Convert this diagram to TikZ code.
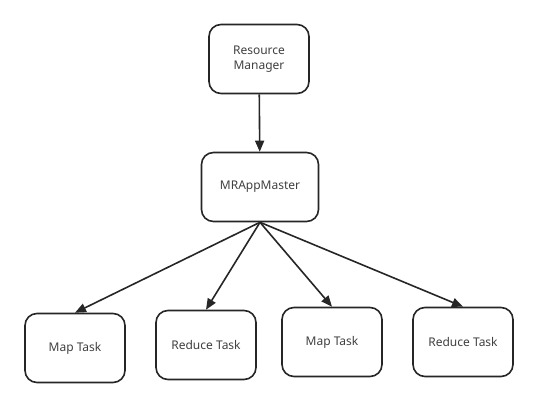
\documentclass[tikz,border=0pt]{standalone}
\usepackage{fontspec}
\setmainfont{Noto Sans}
\usetikzlibrary{arrows.meta}

\begin{document}
\begin{tikzpicture}[x=1pt, y=-1pt, every node/.style={rectangle, draw=black!85, line width=1.6pt, rounded corners=12pt, minimum width=100pt, minimum height=69pt, align=center, text=black!75, font=\fontsize{12}{15}\selectfont}]
  \useasboundingbox (0,0) rectangle (538,409);
  \node (rm) at (259, 59) {Resource\\Manager};
  \node (am) [minimum width=117pt] at (260, 187) {MRAppMaster};
  \node (m1) at (75, 348) {Map Task};
  \node (r1) at (206, 345) {Reduce Task};
  \node (m2) at (332, 342) {Map Task};
  \node (r2) at (463, 342) {Reduce Task};
  \draw[-{Triangle[length=11pt, width=9pt]}, line width=1.6pt, black!85] (rm) -- (am);
  \draw[-{Triangle[length=11pt, width=9pt]}, line width=1.6pt, black!85] (am.south) -- (m1.north);
  \draw[-{Triangle[length=11pt, width=9pt]}, line width=1.6pt, black!85] (am.south) -- (r1.north);
  \draw[-{Triangle[length=11pt, width=9pt]}, line width=1.6pt, black!85] (am.south) -- (m2.north);
  \draw[-{Triangle[length=11pt, width=9pt]}, line width=1.6pt, black!85] (am.south) -- (r2.north);
\end{tikzpicture}
\end{document}
